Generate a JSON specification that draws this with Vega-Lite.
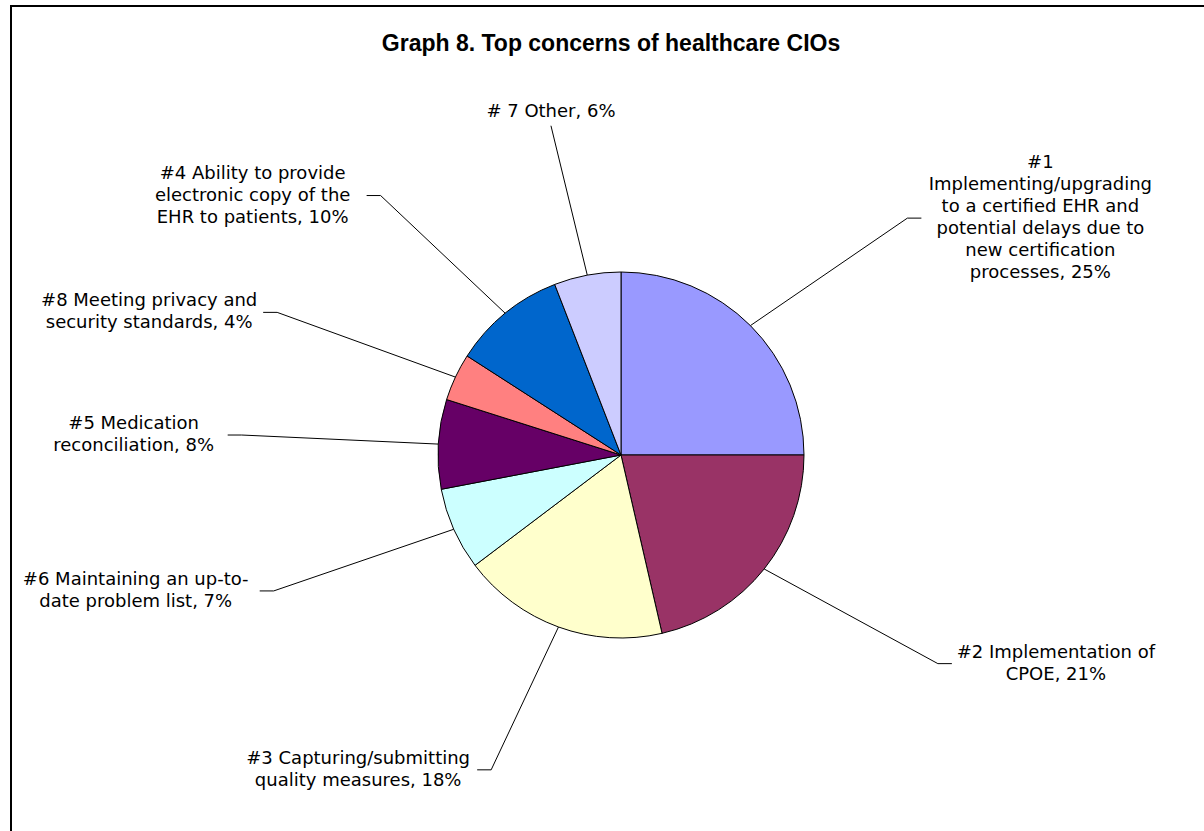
{
  "$schema": "https://vega.github.io/schema/vega-lite/v6.json",
  "width": 1196,
  "height": 828,
  "autosize": {"type": "none"},
  "padding": {"left": 11, "top": 6, "right": -3, "bottom": -3},
  "background": "white",
  "title": {
    "text": "Graph 8. Top concerns of healthcare CIOs",
    "font": "Liberation Sans",
    "fontSize": 23,
    "fontWeight": "bold",
    "color": "black",
    "anchor": "middle",
    "baseline": "alphabetic",
    "offset": -68,
    "dx": 2
  },
  "config": {"view": {"stroke": "black", "strokeWidth": 2}},
  "data": {
    "values": [
      {"item": "#1", "value": 25.0, "label": "#1\nImplementing/upgrading\nto a certified EHR and\npotential delays due to\nnew certification\nprocesses, 25%"},
      {"item": "#2", "value": 21.4, "label": "#2 Implementation of\nCPOE, 21%"},
      {"item": "#3", "value": 18.3, "label": "#3 Capturing/submitting\nquality measures, 18%"},
      {"item": "#6", "value": 7.3, "label": "#6 Maintaining an up-to-\ndate problem list, 7%"},
      {"item": "#5", "value": 7.9, "label": "#5 Medication\nreconciliation, 8%"},
      {"item": "#8", "value": 4.2, "label": "#8 Meeting privacy and\nsecurity standards, 4%"},
      {"item": "#4", "value": 10.0, "label": "#4 Ability to provide\nelectronic copy of the\nEHR to patients, 10%"},
      {"item": "#7", "value": 5.9, "label": "# 7 Other, 6%"}
    ]
  },
  "transform": [
    {"window": [{"op": "sum", "field": "value", "as": "cum"}], "frame": [null, 0]},
    {"joinaggregate": [{"op": "sum", "field": "value", "as": "total"}]},
    {"calculate": "100 * (datum.cum - datum.value) / datum.total", "as": "t0"},
    {"calculate": "100 * datum.cum / datum.total", "as": "t1"},
    {"calculate": "2 * PI * (datum.cum - datum.value / 2) / datum.total", "as": "ang"},
    {"calculate": "sin(datum.ang)", "as": "sx"},
    {"calculate": "cos(datum.ang)", "as": "cy"},
    {"calculate": "abs(datum.sx) < 0.3 ? 'top' : (datum.sx > 0 ? 'right' : 'left')", "as": "side"},
    {"calculate": "datum.side == 'top' ? 0 : (datum.side == 'right' ? 1 : -1)", "as": "dir"},
    {"calculate": "(datum.dir > 0 ? 405 : 380) * datum.sx", "as": "ex"},
    {"calculate": "335 * datum.cy", "as": "ey"}
  ],
  "layer": [
    {
      "mark": {"type": "arc", "outerRadius": 183, "stroke": "black", "strokeWidth": 1},
      "encoding": {
        "x": {"datum": 0, "type": "quantitative", "scale": {"domain": [-610, 586], "nice": false, "zero": false}, "axis": null},
        "y": {"datum": 0, "type": "quantitative", "scale": {"domain": [-379, 449], "nice": false, "zero": false}, "axis": null},
        "theta": {"field": "t0", "type": "quantitative", "stack": null, "scale": {"domain": [0, 100]}},
        "theta2": {"field": "t1"},
        "color": {
          "field": "item",
          "type": "nominal",
          "scale": {
            "domain": ["#1", "#2", "#3", "#6", "#5", "#8", "#4", "#7"],
            "range": ["#9999FF", "#993366", "#FFFFCC", "#CCFFFF", "#660066", "#FF8080", "#0066CC", "#CCCCFF"]
          },
          "legend": null
        }
      }
    },
    {
      "transform": [
        {"calculate": "[0, 1, 2]", "as": "pts"},
        {"flatten": ["pts"]},
        {"calculate": "datum.pts == 0 ? 183 * datum.sx : (datum.pts == 1 ? datum.ex : datum.ex + datum.dir * 14)", "as": "lx"},
        {"calculate": "datum.pts == 0 ? 183 * datum.cy : datum.ey", "as": "ly"}
      ],
      "mark": {"type": "line", "stroke": "black", "strokeWidth": 1},
      "encoding": {
        "x": {"field": "lx", "type": "quantitative", "scale": {"domain": [-610, 586], "nice": false, "zero": false}, "axis": null},
        "y": {"field": "ly", "type": "quantitative", "scale": {"domain": [-379, 449], "nice": false, "zero": false}, "axis": null},
        "detail": {"field": "item", "type": "nominal"},
        "order": {"field": "pts", "type": "quantitative"}
      }
    },
    {
      "transform": [
        {"filter": "datum.side != 'top'"},
        {"calculate": "split(datum.label, '\\n')", "as": "lines"},
        {"calculate": "length(datum.lines)", "as": "nl"},
        {"calculate": "max(length(datum.lines[0] || ''), length(datum.lines[1] || ''), length(datum.lines[2] || ''), length(datum.lines[3] || ''), length(datum.lines[4] || ''), length(datum.lines[5] || ''))", "as": "maxlen"},
        {"calculate": "datum.ex + datum.dir * (18 + datum.maxlen * 10 / 2)", "as": "tx"},
        {"calculate": "datum.ey + (datum.nl - 1) * 11", "as": "ty"}
      ],
      "mark": {"type": "text", "align": "center", "baseline": "middle", "font": "DejaVu Sans", "fontSize": 18, "lineHeight": 22, "lineBreak": "\n", "color": "black"},
      "encoding": {
        "x": {"field": "tx", "type": "quantitative", "scale": {"domain": [-610, 586], "nice": false, "zero": false}, "axis": null},
        "y": {"field": "ty", "type": "quantitative", "scale": {"domain": [-379, 449], "nice": false, "zero": false}, "axis": null},
        "text": {"field": "label"}
      }
    },
    {
      "transform": [
        {"filter": "datum.side == 'top'"},
        {"calculate": "datum.ey + 5", "as": "ty"}
      ],
      "mark": {"type": "text", "align": "center", "baseline": "bottom", "font": "DejaVu Sans", "fontSize": 18, "lineHeight": 22, "lineBreak": "\n", "color": "black"},
      "encoding": {
        "x": {"field": "ex", "type": "quantitative", "scale": {"domain": [-610, 586], "nice": false, "zero": false}, "axis": null},
        "y": {"field": "ty", "type": "quantitative", "scale": {"domain": [-379, 449], "nice": false, "zero": false}, "axis": null},
        "text": {"field": "label"}
      }
    }
  ]
}
